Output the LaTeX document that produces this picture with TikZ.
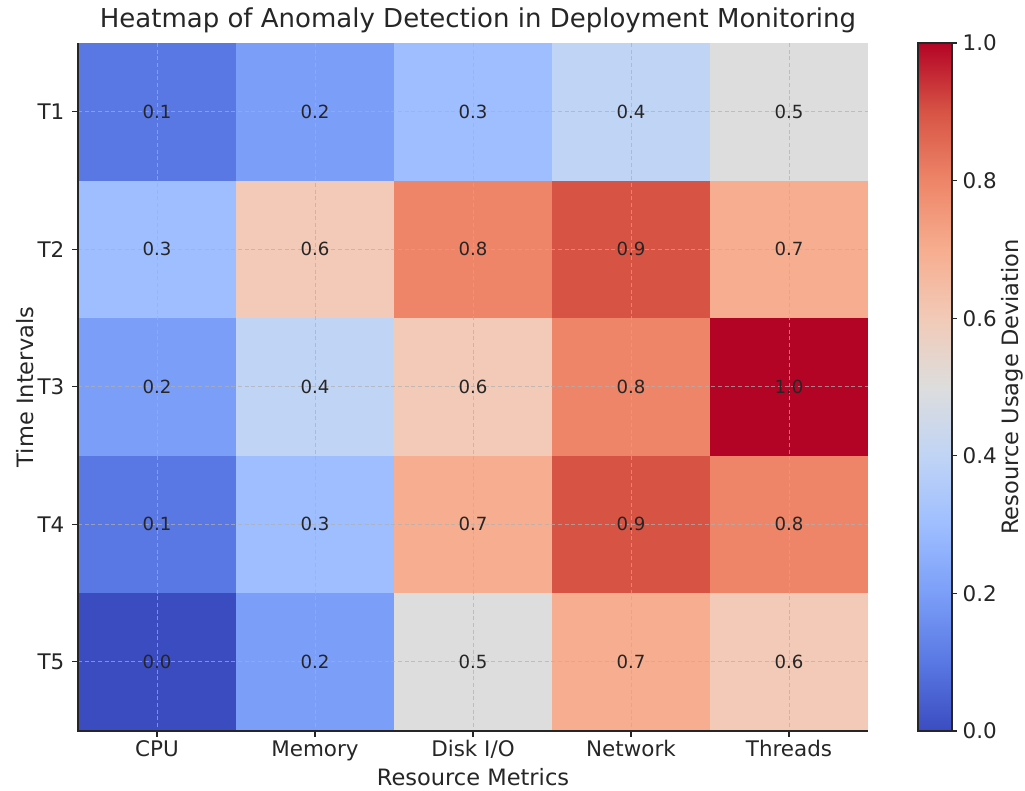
\documentclass[tikz,border=0pt]{standalone}
\usepackage{fontspec}
\setmainfont{DejaVu Sans}
\usepackage{tikz}
\usetikzlibrary{positioning}

% coolwarm steps 0.0 .. 1.0
\definecolor{cw0}{RGB}{59,76,192}
\definecolor{cw1}{RGB}{89,120,227}
\definecolor{cw2}{RGB}{123,158,248}
\definecolor{cw3}{RGB}{158,190,255}
\definecolor{cw4}{RGB}{192,212,245}
\definecolor{cw5}{RGB}{221,221,221}
\definecolor{cw6}{RGB}{242,202,183}
\definecolor{cw7}{RGB}{247,173,143}
\definecolor{cw8}{RGB}{238,133,104}
\definecolor{cw9}{RGB}{215,84,69}
\definecolor{cw10}{RGB}{180,4,38}
\definecolor{inkgray}{RGB}{38,38,38}
\definecolor{gridgray}{RGB}{176,176,176}

\pgfdeclareverticalshading{coolwarm}{100bp}{color(0bp)=(cw0); color(25bp)=(cw0);
  color(30bp)=(cw1); color(35bp)=(cw2); color(40bp)=(cw3); color(45bp)=(cw4);
  color(50bp)=(cw5); color(55bp)=(cw6); color(60bp)=(cw7); color(65bp)=(cw8);
  color(70bp)=(cw9); color(75bp)=(cw10); color(100bp)=(cw10)}

\begin{document}
\begin{tikzpicture}[x=0.75pt,y=-0.75pt,
    spine/.style={inkgray,line width=1.1pt},
    gridline/.style={gridgray,opacity=0.7,line width=0.6pt,dash pattern=on 3pt off 2pt},
    cellval/.style={inkgray,font=\fontsize{13.6}{16}\selectfont},
    ticklab/.style={inkgray,font=\fontsize{16.1}{19}\selectfont},
    axlab/.style={inkgray,font=\fontsize{16.9}{20}\selectfont}]
\useasboundingbox (0,0) rectangle (1025,790);

    % cells, one row per time interval
    \foreach \vals [count=\r] in {{1,2,3,4,5},{3,6,8,9,7},{2,4,6,8,10},{1,3,7,9,8},{0,2,5,7,6}}{
      \foreach \v [count=\c] in \vals{
        \fill[cw\v] (78+\c*158-158,43+\r*137.5-137.5) rectangle (78+\c*158,43+\r*137.5);
      }
    }

    % dashed grid at tick positions
    \foreach \c in {1,...,5}
      \draw[gridline] (78+\c*158-79,43) -- (78+\c*158-79,731);
    \foreach \r in {1,...,5}
      \draw[gridline] (78,43+\r*137.5-68.75) -- (868,43+\r*137.5-68.75);

    % values
    \foreach \vals [count=\r] in {{1,2,3,4,5},{3,6,8,9,7},{2,4,6,8,10},{1,3,7,9,8},{0,2,5,7,6}}{
      \foreach \v [count=\c] in \vals{
        \node[cellval] (val\r\c) at (78+\c*158-79,43+\r*137.5-68.75) {\ifnum\v=10 1.0\else 0.\v\fi};
      }
    }

    % spines and ticks
    \draw[spine] (78,43) -- (78,731) -- (868,731);
    \foreach \name [count=\c] in {CPU,Memory,Disk I/O,Network,Threads}{
      \draw[spine,line width=0.8pt] (78+\c*158-79,731) -- (78+\c*158-79,737);
      \node[ticklab,anchor=base] (xt\c) at (78+\c*158-79,756) {\name};
    }
    \foreach \c in {1,...,5}{
      \draw[spine,line width=0.8pt] (78,43+\c*137.5-68.75) -- (72,43+\c*137.5-68.75);
      \node[ticklab,anchor=east] (yt\c) at (69,43+\c*137.5-68.75) {T\c};
    }

    \node[axlab,anchor=base] (xlab) at (473,785) {Resource Metrics};
    \node[axlab,rotate=90] (ylab) at (25,387) {Time Intervals};
    \node[inkgray,font=\fontsize{19.5}{23}\selectfont] (title) at (478,20)
      {Heatmap of Anomaly Detection in Deployment Monitoring};

    % colour bar
    \shade[shading=coolwarm] (918,43) rectangle (952,731);
    \draw[spine,line width=0.8pt] (918,43) rectangle (952,731);
    \foreach \t [count=\k from 0] in {0.0,0.2,0.4,0.6,0.8,1.0}{
      \draw[spine,line width=0.8pt] (952,731-\k*137.6) -- (957,731-\k*137.6);
      \node[ticklab,anchor=west] (cb\k) at (958,731-\k*137.6) {\t};
    }
    \node[axlab,rotate=90] (cblab) at (1012,387) {Resource Usage Deviation};

\end{tikzpicture}
\end{document}
